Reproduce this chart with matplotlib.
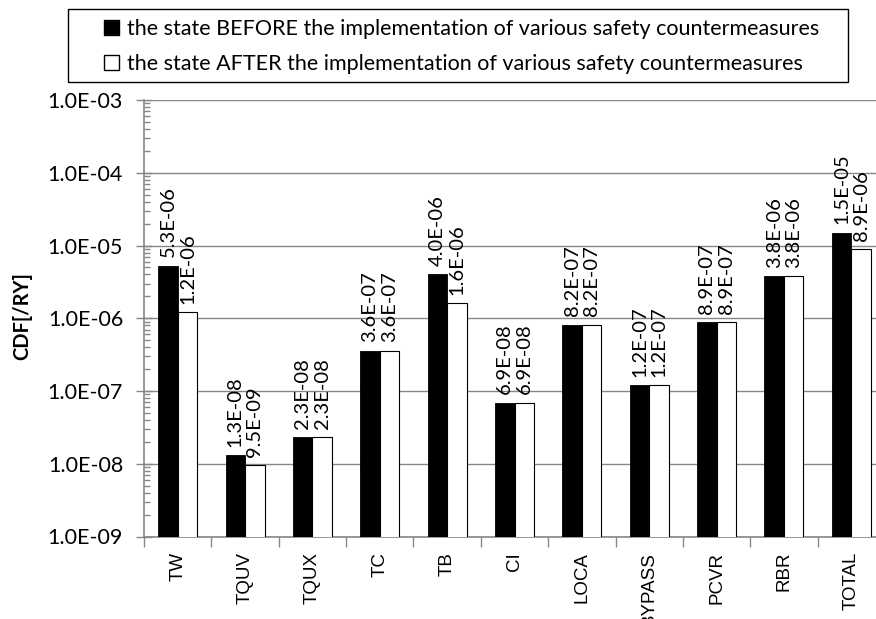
import matplotlib
matplotlib.use("Agg")
import matplotlib.pyplot as plt
import numpy as np
from matplotlib.patches import Patch, Rectangle
from matplotlib.ticker import LogLocator, FixedLocator, NullFormatter

categories = ["TW", "TQUV", "TQUX", "TC", "TB", "CI", "LOCA", "BYPASS", "PCVR", "RBR", "TOTAL"]
before = [5.3e-06, 1.3e-08, 2.3e-08, 3.6e-07, 4.0e-06, 6.9e-08, 8.2e-07, 1.2e-07, 8.9e-07, 3.8e-06, 1.5e-05]
after = [1.2e-06, 9.5e-09, 2.3e-08, 3.6e-07, 1.6e-06, 6.9e-08, 8.2e-07, 1.2e-07, 8.9e-07, 3.8e-06, 8.9e-06]
before_label = "the state BEFORE the implementation of various safety countermeasures"
after_label = "the state AFTER the implementation of various safety countermeasures"

GRAY = "#868686"
MAIN_FONT = ["Lato", "DejaVu Sans"]
TICK_FONT = ["Liberation Sans", "DejaVu Sans"]
W, H = 876, 619


def _add_labels(ax, xs, values):
    for x, v in zip(xs, values):
        ax.annotate(f"{v:.1E}", (x, v), xytext=(0, 6), textcoords="offset points",
                    rotation=90, ha="center", va="bottom", fontsize=14.5,
                    family=MAIN_FONT, color="black", annotation_clip=False)


def create_plot():
    fig = plt.figure(figsize=(W / 100, H / 100), dpi=100)
    ax = fig.add_axes([144 / W, 1 - 536.5 / H, (885 - 144) / W, (536.5 - 100) / H])

    x = np.arange(len(categories))
    width = 0.29
    ax.bar(x - width / 2, before, width, color="black", edgecolor="black", linewidth=0.6, zorder=3)
    ax.bar(x + width / 2, after, width, color="white", edgecolor="black", linewidth=0.8, zorder=3)

    _add_labels(ax, x - width / 2, before)
    _add_labels(ax, x + width / 2, after)

    ax.set_yscale("log")
    ax.set_ylim(1e-9, 1e-3)
    ax.set_xlim(-0.5, len(categories) - 0.5)

    ax.yaxis.set_minor_locator(LogLocator(base=10, subs=np.arange(2, 10), numticks=20))
    ax.yaxis.set_minor_formatter(NullFormatter())
    ax.set_yticks([10.0 ** e for e in range(-9, -2)])
    ax.set_yticklabels([f"1.0E-{-e:02d}" for e in range(-9, -2)], family=MAIN_FONT, fontsize=15.5)
    ax.tick_params(axis="y", which="major", direction="inout", length=12, width=1, color=GRAY, pad=9)
    ax.tick_params(axis="y", which="minor", direction="in", length=4, width=1, color=GRAY)

    ax.set_xticks(x)
    ax.set_xticklabels(categories, rotation=90, family=TICK_FONT, fontsize=13.5)
    ax.tick_params(axis="x", which="major", length=0, pad=11)
    ax.xaxis.set_minor_locator(FixedLocator(np.arange(-0.5, len(categories), 1.0)))
    ax.tick_params(axis="x", which="minor", direction="out", length=7, width=1, color=GRAY)

    ax.grid(axis="y", which="major", color=GRAY, linewidth=1, zorder=0)
    ax.set_axisbelow(True)
    for side in ["top", "right"]:
        ax.spines[side].set_visible(False)
    for side in ["left", "bottom"]:
        ax.spines[side].set_color(GRAY)
        ax.spines[side].set_linewidth(1.2)

    fig.text(22 / W, 1 - 316 / H, "CDF[/RY]", rotation=90, ha="center", va="center",
             fontsize=14.5, fontweight="bold", family=MAIN_FONT)

    # legend box drawn separately so the entries sit centred inside it
    fig.patches.append(Rectangle((68 / W, 1 - 82 / H), (848 - 68) / W, (82 - 9) / H,
                                 transform=fig.transFigure, facecolor="white",
                                 edgecolor="black", linewidth=1))
    handles = [Patch(facecolor="black", edgecolor="black", label=before_label),
               Patch(facecolor="white", edgecolor="black", label=after_label)]
    fig.legend(handles=handles, loc="center",
               bbox_to_anchor=((103 + 820) / 2 / W, 1 - 46.5 / H),
               prop={"family": MAIN_FONT, "size": 15.5},
               handlelength=0.7, handleheight=0.7, handletextpad=0.35,
               labelspacing=0.7, borderpad=0, borderaxespad=0, frameon=False)

    fig.savefig("out.png", dpi=100)


if __name__ == "__main__":
    create_plot()
